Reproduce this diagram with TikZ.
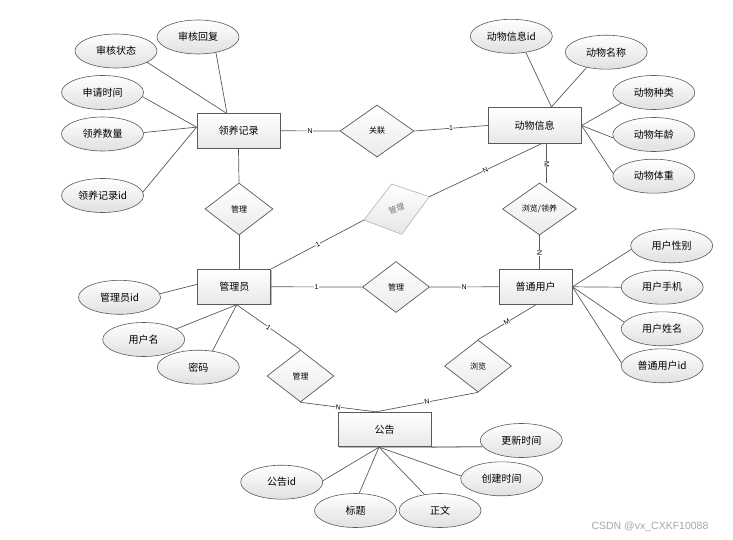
\documentclass[tikz,border=0pt]{standalone}
\usepackage{fontspec}
\setmainfont{Noto Sans CJK SC}
\setsansfont{Liberation Sans}
\newfontfamily\cjk{Noto Sans CJK SC}
\usetikzlibrary{shapes.geometric,shadows}
\definecolor{lc}{HTML}{5A5A5A}
\begin{document}
\begin{tikzpicture}[x=1pt,y=-1pt,
  line/.style={draw=lc, line width=0.7pt},
  entity/.style={rectangle, draw=lc, line width=0.8pt, top color=white, bottom color=black!9,
    inner sep=0pt, font=\cjk\fontsize{10}{12}\selectfont,
    drop shadow={shadow xshift=0.9pt, shadow yshift=-0.9pt, fill=black!45, opacity=0.6}},
  attr/.style={ellipse, draw=lc, line width=0.6pt, top color=white, bottom color=black!12,
    minimum width=82pt, minimum height=34pt, inner sep=0pt, font=\cjk\fontsize{10}{12}\selectfont},
  rel/.style={diamond, draw=lc, line width=0.7pt, top color=white, bottom color=black!8,
    inner sep=0pt, font=\cjk\fontsize{8}{10}\selectfont},
  lab/.style={font=\sffamily\fontsize{7}{8}\selectfont, fill=white, inner sep=0.4pt},
]
\useasboundingbox (0,0) rectangle (733,540);

% entities
\node[entity, minimum width=83pt, minimum height=35pt] (ly) at (238.5,130.8) {领养记录};
\node[entity, minimum width=93pt, minimum height=35.5pt] (dw) at (534.7,125.5) {动物信息};
\node[entity, minimum width=73pt, minimum height=35pt] (gly) at (234.3,286.8) {管理员};
\node[entity, minimum width=73pt, minimum height=35pt] (pt) at (535.5,286.8) {普通用户};
\node[entity, minimum width=92.5pt, minimum height=34.5pt] (gg) at (384.7,429.5) {公告};

% relationships
\node[rel, minimum width=74pt, minimum height=52pt] (gl) at (377,131) {关联};
\node[rel, minimum width=68pt, minimum height=52pt] (gl1) at (239,209) {管理};
\node[rel, minimum width=74pt, minimum height=52pt] (llly) at (539.5,209) {浏览/领养};
\node[rel, minimum width=67pt, minimum height=51pt] (gl2) at (396,287) {管理};
\node[rel, minimum width=67pt, minimum height=52pt] (gl3) at (300.5,376) {管理};
\node[rel, minimum width=67pt, minimum height=52pt] (ll) at (478,366) {浏览};

% grey tilted relationship
\coordinate (gdt) at (391.7,184);
\coordinate (gdr) at (429.3,196.7);
\coordinate (gdb) at (401.7,234.3);
\coordinate (gdl) at (364,220);
\path[draw=black!30, line width=0.6pt, top color=white, bottom color=black!10] (gdt) -- (gdr) -- (gdb) -- (gdl) -- cycle;
\node[font=\cjk\fontsize{8}{10}\selectfont, text=black!55, rotate=20] (gdtext) at (396.7,209) {管理};

% attributes of 领养记录
\node[attr] (shzt) at (116,51) {审核状态};
\node[attr] (shhf) at (198,37) {审核回复};
\node[attr] (sqsj) at (102.5,92.5) {申请时间};
\node[attr] (lysl) at (102.5,134) {领养数量};
\node[attr] (lyid) at (102.5,195.5) {领养记录id};
% attributes of 动物信息
\node[attr] (dwid) at (511.3,36.3) {动物信息id};
\node[attr] (dwmc) at (606.2,52.2) {动物名称};
\node[attr] (dwzl) at (653.8,92.5) {动物种类};
\node[attr] (dwnl) at (653.8,134.5) {动物年龄};
\node[attr] (dwtz) at (653.8,176.2) {动物体重};
% attributes of 普通用户
\node[attr] (yhxb) at (671.7,245.8) {用户性别};
\node[attr] (yhsj) at (662.2,287.2) {用户手机};
\node[attr] (yhxm) at (662.2,328.8) {用户姓名};
\node[attr] (ptid) at (662.2,365.8) {普通用户id};
% attributes of 管理员
\node[attr] (glyid) at (119.5,297.3) {管理员id};
\node[attr] (yhm) at (143.7,339.5) {用户名};
\node[attr] (mm) at (198.3,367.2) {密码};
% attributes of 公告
\node[attr] (gxsj) at (521.3,440.5) {更新时间};
\node[attr] (cjsj) at (501.7,478.8) {创建时间};
\node[attr] (ggid) at (281.7,482.2) {公告id};
\node[attr] (bt) at (355.5,510.5) {标题};
\node[attr] (zw) at (440,510.5) {正文};

% attribute connectors
\draw[line] (shzt.-20) -- (ly.125);
\draw[line] (shhf.-41) -- (ly.123);
\draw[line] (sqsj.-6) -- (ly.175);
\draw[line] (lysl.2) -- (ly.175);
\draw[line] (lyid.5) -- (ly.175);

\draw[line] (dwid.-48) -- (dw.47);
\draw[line] (dwmc.-142) -- (dw.48);
\draw[line] (dwzl.-162) -- (dw.east);
\draw[line] (dwnl.-175) -- (dw.east);
\draw[line] (dwtz.176) -- (dw.east);

\draw[line] (yhxb.-175) -- (pt.east);
\draw[line] (yhsj.180) -- (pt.east);
\draw[line] (yhxm.170) -- (pt.east);
\draw[line] (ptid.176) -- (pt.east);

\coordinate (glyb) at ([xshift=2.4pt]gly.south);
\draw[line] (glyid.5) -- (gly.176);
\draw[line] (yhm.18) -- (glyb);
\draw[line] (mm.49) -- (glyb);

\coordinate (ggb) at ([xshift=-5.7pt]gg.south);
\draw[draw=black!45, line width=1.3pt] (gg.south east) -- (gxsj.189);
\draw[line] (ggid.2) -- (ggb);
\draw[line] (bt.78) -- (ggb);
\draw[line] (zw.134) -- (ggb);
\draw[line] (cjsj.176) -- (ggb);

% relationship connectors
\draw[line] (ly.east) -- node[lab]{N} (gl.west);
\draw[line] (gl.east) -- node[lab]{1} (dw.west);

\draw[line] (ly.south) -- (gl1.north);
\draw[line] (gl1.south) -- (gl1.south |- gly.north);

\coordinate (dwg) at ([xshift=7pt]dw.south);
\draw[line] (gly.north east) -- node[lab, rotate=28]{1} (gdl);
\draw[line] (gdr) -- node[lab, rotate=25]{N} (dwg);

\coordinate (dwm) at ([xshift=12pt]dw.south);
\draw[line] (dwm) -- node[lab, rotate=-90, pos=0.52]{M} (dwm |- llly.north);
\draw[line] (llly.south) -- node[lab, rotate=-90, pos=0.53]{N} (llly.south |- pt.north);

\draw[line] (gly.east) -- node[lab]{1} (gl2.west);
\draw[line] (gl2.east) -- node[lab]{N} (pt.west);

\coordinate (ggt) at ([xshift=-8.7pt]gg.north);
\draw[line] (glyb) -- node[lab, rotate=-34.5]{1} (gl3.north);
\draw[line] (gl3.south) -- node[lab, rotate=-8]{N} (ggt);

\coordinate (ptb) at ([xshift=0.5pt]pt.south);
\draw[line] (ptb) -- node[lab, rotate=31]{M} (ll.north);
\draw[line] (ll.south) -- node[lab, rotate=11]{N} (ggt);

% watermark
\node[font=\sffamily\fontsize{10.5}{12}\selectfont, text=black!35] (wm) at (650,527) {CSDN @vx\_CXKF10088};
\end{tikzpicture}
\end{document}
